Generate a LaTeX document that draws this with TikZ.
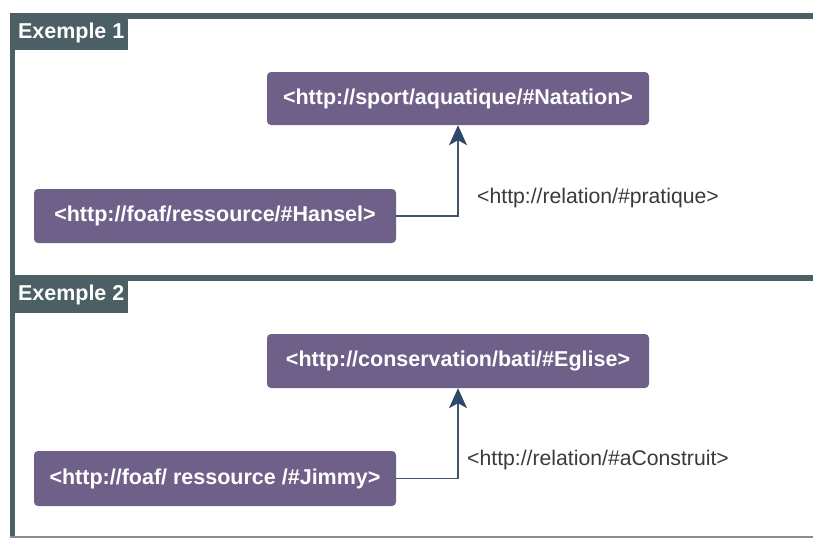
\documentclass[tikz,border=0pt]{standalone}
\usepackage{fontspec}
\setmainfont{Liberation Sans}
\usetikzlibrary{arrows.meta}
\definecolor{boxpurple}{HTML}{6E6089}
\definecolor{frameslate}{HTML}{4B5F64}
\definecolor{arrownavy}{HTML}{2D4868}
\definecolor{linegrey}{HTML}{3F5570}
\definecolor{labelgrey}{HTML}{3A3A3A}
\tikzset{
  uri/.style={fill=boxpurple, rounded corners=4pt, text=white, font=\fontsize{21.5}{25}\selectfont\bfseries, inner sep=0pt, align=center},
  tab/.style={fill=frameslate, text=white, font=\fontsize{21.5}{25}\selectfont\bfseries, inner sep=0pt, anchor=north west},
  rel/.style={text=labelgrey, font=\fontsize{21.2}{25}\selectfont, anchor=west, inner sep=0pt},
  conn/.style={draw=linegrey, line width=1.3pt, -{Stealth[length=20pt,width=18pt,inset=5pt,color=arrownavy]}},
  frameline/.style={draw=frameslate, line width=6pt}
}
\begin{document}
\begin{tikzpicture}[x=1pt,y=-1pt]
\useasboundingbox (0,0) rectangle (813,538);
\fill[white] (0,0) rectangle (813,538);
% frame
\draw[frameline] (10,16) -- (813,16);
\draw[frameline] (10,278) -- (813,278);
\draw[draw=frameslate, line width=5pt] (12.5,13) -- (12.5,538);
\draw[draw=frameslate!70, line width=2pt] (10,537) -- (813,537);
% tabs
\node[tab, minimum width=118pt, minimum height=34pt] (tab1) at (10,16) {\hspace*{4pt}Exemple 1};
\node[tab, minimum width=118pt, minimum height=36pt] (tab2) at (10,277) {\hspace*{4pt}Exemple 2};
% example 1
\node[uri, minimum width=382pt, minimum height=53pt] (natation) at (458,98.5) {<http://sport/aquatique/\#Natation>};
\node[uri, minimum width=362pt, minimum height=54pt] (hansel) at (215,216) {<http://foaf/ressource/\#Hansel>};
\draw[conn] (hansel.east) -| (natation.south);
\node[rel] (pratique) at (477,198) {<http://relation/\#pratique>};
% example 2
\node[uri, minimum width=382pt, minimum height=54pt] (eglise) at (458,361) {<http://conservation/bati/\#Eglise>};
\node[uri, minimum width=362pt, minimum height=55pt] (jimmy) at (215,478.5) {<http://foaf/ ressource /\#Jimmy>};
\draw[conn] (jimmy.east) -| (eglise.south);
\node[rel] (construit) at (467,460) {<http://relation/\#aConstruit>};
\end{tikzpicture}
\end{document}
